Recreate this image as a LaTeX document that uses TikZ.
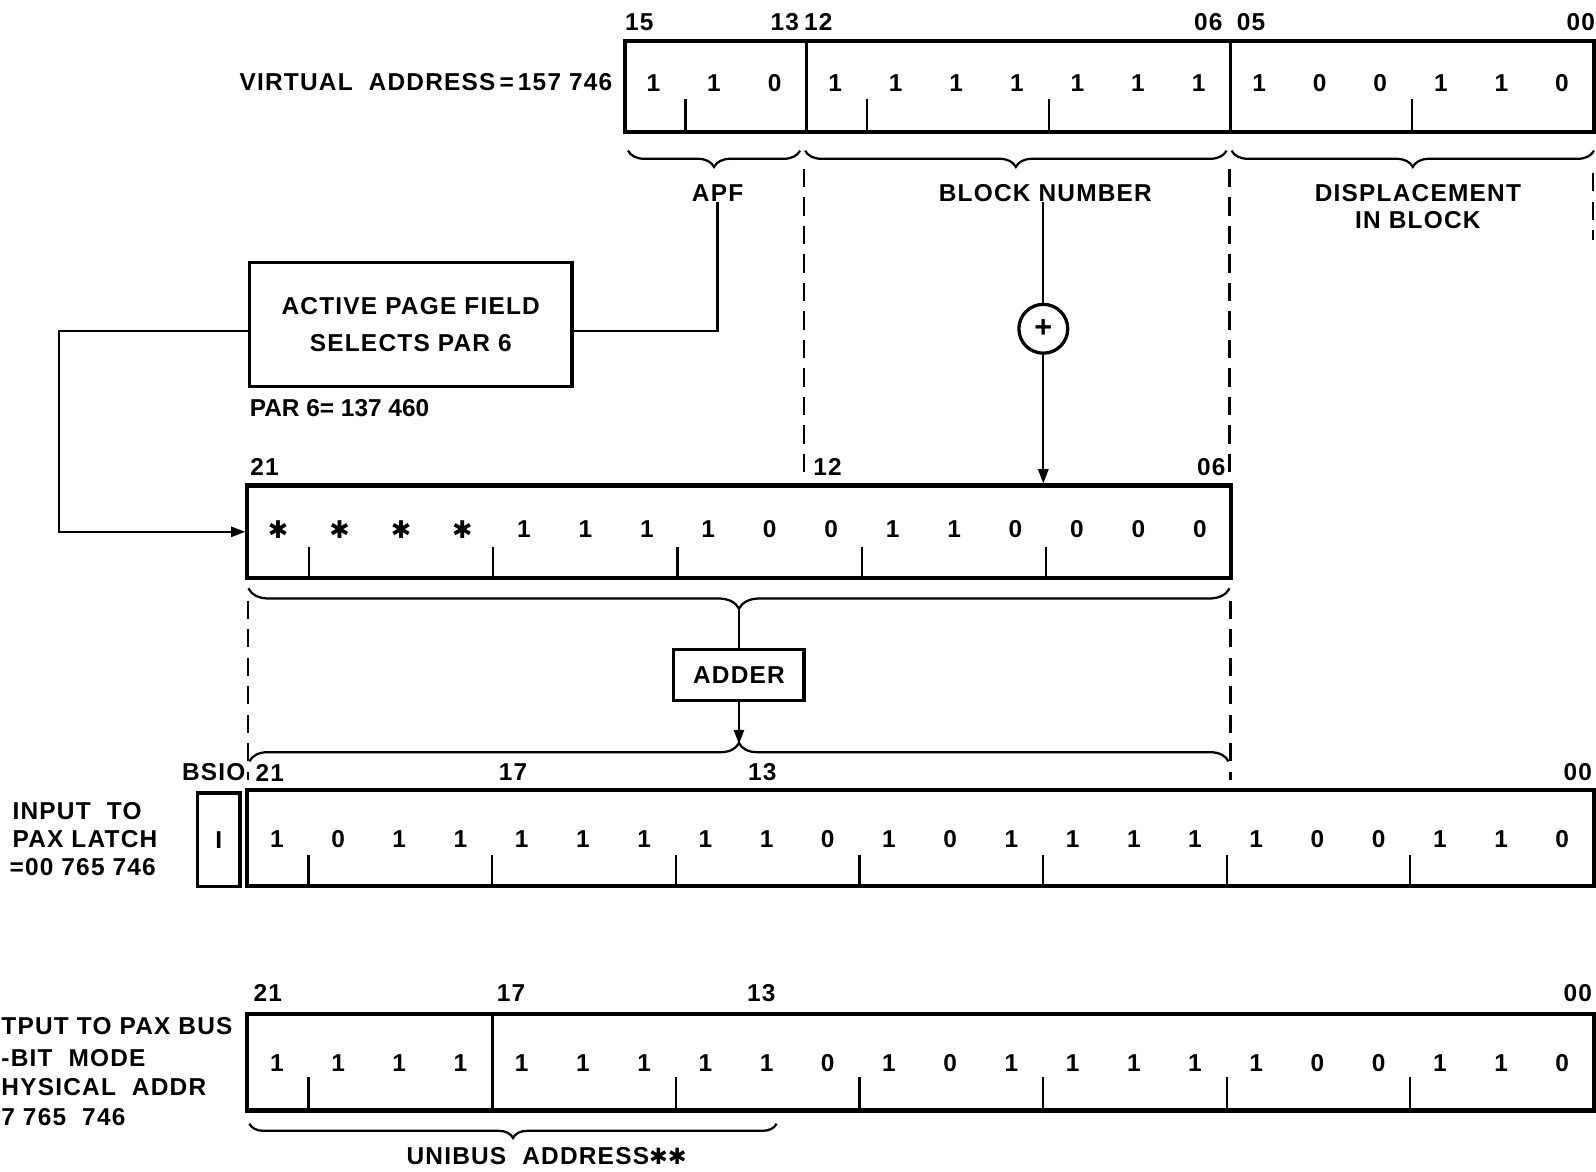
\documentclass[tikz,border=0pt]{standalone}
\usepackage{fontspec}
\setmainfont{Liberation Sans}[LetterSpace=5]
\newfontfamily\plainf{Liberation Sans}
\newfontfamily\symf{DejaVu Sans}
\usetikzlibrary{arrows.meta,decorations.pathreplacing,calc}
\def\starmark{*}
\begin{document}
\begin{tikzpicture}[x=0.5pt,y=-0.5pt,
  every node/.style={inner sep=0pt, font=\bfseries\fontsize{12}{14}\selectfont},
  reg/.style={draw, line width=2pt, rectangle},
  bx/.style={draw, line width=1.6pt, rectangle},
  tk/.style={line width=1.1pt},
  dv/.style={line width=1.3pt},
  wire/.style={line width=1.1pt},
  arr/.style={line width=1.1pt, -{Triangle[length=7pt,width=5pt]}},
  dsh/.style={line width=1.1pt, dash pattern=on 9pt off 5pt},
  brc/.style={line width=1.1pt, decorate, decoration={brace, amplitude=#1}},
  brcm/.style={line width=1.1pt, decorate, decoration={brace, mirror, amplitude=#1}}]
\useasboundingbox (0,0) rectangle (1568,1151);

% ---------- virtual address register ----------
\node[reg, minimum width=476pt, minimum height=45pt] (va) at (1090,85) {};
\foreach \v [count=\i from 0] in {1,1,0,1,1,1,1,1,1,1,1,0,0,1,1,0}
  \node (va\i) at ({642+59.5*\i},82) {\v};
\foreach \k in {1,4,7,13} \draw[tk] ({614+59.5*\k},130) -- ({614+59.5*\k},97);
\foreach \k in {3,10} \draw[dv] ({614+59.5*\k},40) -- ({614+59.5*\k},130);
\node[anchor=east] (valbl) at (602,81) {VIRTUAL\ \ ADDRESS\,=\,157 746};
\node (t15) at (628,22) {15};
\node (t13) at (771,22) {13};
\node (t12) at (804,22) {12};
\node (t06) at (1187,22) {06};
\node (t05) at (1229,22) {05};
\node (t00) at (1553,22) {00};

% braces under virtual address
\draw[brcm=8pt] (617,148) -- (786,148);
\draw[brcm=8pt] (791,148) -- (1205,148);
\draw[brcm=8pt] (1210,148) -- (1566,148);
\node (apf) at (705,190) {APF};
\node (bn) at (1027,190) {BLOCK NUMBER};
\node[align=center, font=\bfseries\fontsize{12}{13.5}\selectfont] (disp) at (1393,203) {DISPLACEMENT\\IN BLOCK};

% dashed guides
\draw[dsh] (790,166) -- (790,470);
\draw[dsh] (1208,166) -- (1208,468);
\draw[dsh] (1565,170) -- (1565,236);

% ---------- PAR box ----------
\node[bx, minimum width=158.5pt, minimum height=61pt, align=center,
      font=\bfseries\fontsize{12}{18.5}\selectfont] (par) at (403.5,319) {ACTIVE PAGE FIELD\\SELECTS PAR 6};
\node[anchor=west, font=\bfseries\plainf\fontsize{12}{14}\selectfont] (parv) at (245,401) {PAR 6= 137 460};
\coordinate (parE) at ($(par.east)+(0,6)$);
\draw[wire] (apf.south) |- (parE);

% ---------- block number adder ----------
\node[draw, circle, line width=1.6pt, minimum size=24pt, font=\bfseries\fontsize{15}{15}\selectfont] (plus) at (1025,323) {+};
\draw[wire] (plus.north |- bn.south) -- (plus.north);

% ---------- PAR-derived register ----------
\node[reg, minimum width=483pt, minimum height=45.5pt] (pa) at (726,522.5) {};
\draw[arr] (plus.south) -- (plus.south |- pa.north);
\coordinate (lft) at (58,0);
\coordinate (parW) at ($(par.west)+(0,6)$);
\draw[arr] (parW) -- (parW -| lft) |- (pa.west);
\foreach \v [count=\i from 0] in {*,*,*,*,1,1,1,1,0,0,1,1,0,0,0,0}{
  \ifx\v\starmark
    \node (pa\i) at ({273.2+60.375*\i},520) {\symf ✱};
  \else
    \node (pa\i) at ({273.2+60.375*\i},520) {\v};
  \fi}
\foreach \k in {1,4,7,10,13} \draw[tk] ({243+60.375*\k},568) -- ({243+60.375*\k},537);
\node (p21) at (260,459) {21};
\node (p12) at (813,459) {12};
\node (p06) at (1190,459) {06};

% brace to adder
\draw[brcm=10pt] (244,578) -- (1208,578);
\coordinate (b2) at (726,599);
\node[bx, minimum width=64pt, minimum height=25pt] (adder) at (726,663) {ADDER};
\draw[wire] (b2) -- (adder.north);
\draw[brc=9pt] (245,748) -- (1207,748);
\coordinate (b3) at (726,731);
\draw[arr] (adder.south) -- (b3);
\draw[dsh] (244,590) -- (244,766);
\draw[dsh] (1209,590) -- (1209,766);

% ---------- input to PAX latch ----------
\node (bsl) at (210,759) {BSIO};
\node (l21) at (265,759) {21};
\node (l17) at (504,759) {17};
\node (l13) at (749,759) {13};
\node (l00) at (1550,759) {00};
\node[bx, line width=1.8pt, minimum width=21pt, minimum height=46pt] (bsio) at (215,825) {I};
\node[reg, minimum width=661.5pt, minimum height=47pt] (lt) at (904.5,823) {};
\foreach \v [count=\i from 0] in {1,0,1,1,1,1,1,1,1,0,1,0,1,1,1,1,1,0,0,1,1,0}
  \node (lt\i) at ({272+60.136*\i},824) {\v};
\foreach \k in {1,4,7,10,13,16,19} \draw[tk] ({243+60.136*\k},870) -- ({243+60.136*\k},840);
\node[anchor=west] (in1) at (12,797) {INPUT\ \ TO};
\node[anchor=west] (in2) at (12,824) {PAX LATCH};
\node[anchor=west] (in3) at (9,852) {=00 765 746};

% ---------- output to PAX bus ----------
\node (o21) at (263,976) {21};
\node (o17) at (502,976) {17};
\node (o13) at (748,976) {13};
\node (o00) at (1550,976) {00};
\node[reg, minimum width=661.5pt, minimum height=47.5pt] (bs) at (904.5,1043.5) {};
\foreach \v [count=\i from 0] in {1,1,1,1,1,1,1,1,1,0,1,0,1,1,1,1,1,0,0,1,1,0}
  \node (bs\i) at ({272+60.136*\i},1044) {\v};
\foreach \k in {1,7,10,13,16,19} \draw[tk] ({243+60.136*\k},1091) -- ({243+60.136*\k},1058);
\draw[dv] ({243+60.136*4},996) -- ({243+60.136*4},1091);
\node[anchor=west] (ou1) at (1,1008) {TPUT TO PAX BUS};
\node[anchor=west] (ou2) at (1,1040) {-BIT\ \ MODE};
\node[anchor=west] (ou3) at (1,1068) {HYSICAL\ \ ADDR};
\node[anchor=west] (ou4) at (1,1097) {7 765\ \ 746};
\draw[brcm=7pt] (245,1104) -- (763,1104);
\node (uni) at (537,1136) {UNIBUS\ \ ADDRESS{\symf\fontsize{11}{12}\selectfont ✱✱}};
\end{tikzpicture}
\end{document}
